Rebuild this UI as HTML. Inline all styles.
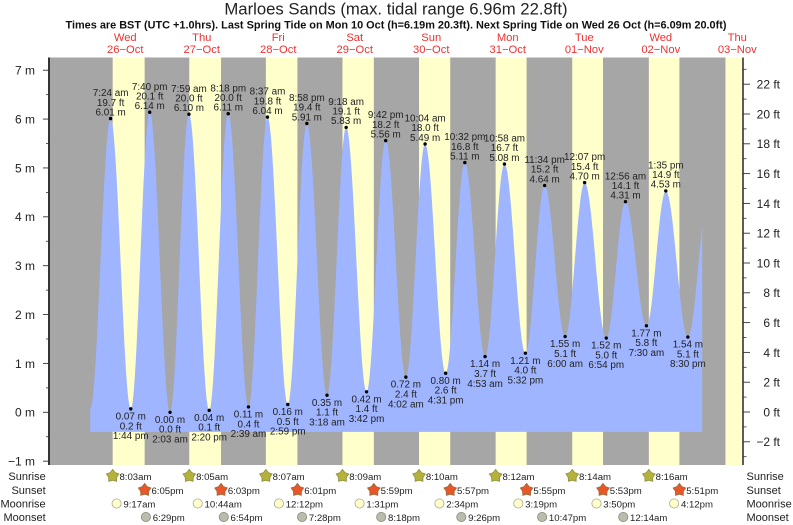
<!DOCTYPE html>
<html lang="en">
<head>
<meta charset="utf-8">
<title>Marloes Sands tide chart</title>
<style>
html,body{margin:0;padding:0;background:#fff;}
svg{display:block;font-family:"Liberation Sans",sans-serif;}
</style>
</head>
<body>
<svg id="chart" width="793" height="525" viewBox="0 0 793 525" xmlns="http://www.w3.org/2000/svg">
  <text x="396" y="14.5" font-size="16.7" text-anchor="middle" fill="#222">Marloes Sands (max. tidal range 6.96m 22.8ft)</text>
  <text x="396" y="28.5" font-size="10.9" font-weight="bold" text-anchor="middle" fill="#111">Times are BST (UTC +1.0hrs). Last Spring Tide on Mon 10 Oct (h=6.19m 20.3ft). Next Spring Tide on Wed 26 Oct (h=6.09m 20.0ft)</text>
  <g id="bands"></g>
  <g id="water"></g>
  <g id="axes"></g>
  <g id="days"></g>
  <g id="tides"></g>
  <g id="almanac"></g>
</svg>
<script>
// ---- chart data ----
const dayNames = ['Wed','Thu','Fri','Sat','Sun','Mon','Tue','Wed','Thu'];
const dayDates = ['26\u2212Oct','27\u2212Oct','28\u2212Oct','29\u2212Oct','30\u2212Oct','31\u2212Oct','01\u2212Nov','02\u2212Nov','03\u2212Nov'];

const tideDays = [0,0,0,1,1,1,1,2,2,2,2,3,3,3,3,4,4,4,4,5,5,5,5,6,6,6,7,7,7,7];
const tideTimes = ['7:24 am','1:44 pm','7:40 pm','2:03 am','7:59 am','2:20 pm','8:18 pm','2:39 am','8:37 am','2:59 pm','8:58 pm','3:18 am','9:18 am','3:42 pm','9:42 pm','4:02 am','10:04 am','4:31 pm','10:32 pm','4:53 am','10:58 am','5:32 pm','11:34 pm','6:00 am','12:07 pm','6:54 pm','12:56 am','7:30 am','1:35 pm','8:30 pm'];
const tideMetres = [6.01,0.07,6.14,0.00,6.10,0.04,6.11,0.11,6.04,0.16,5.91,0.35,5.83,0.42,5.56,0.72,5.49,0.80,5.11,1.14,5.08,1.21,4.64,1.55,4.70,1.52,4.31,1.77,4.53,1.54];
const tideFeet = [19.7,0.2,20.1,0.0,20.0,0.1,20.0,0.4,19.8,0.5,19.4,1.1,19.1,1.4,18.2,2.4,18.0,2.6,16.8,3.7,16.7,4.0,15.2,5.1,15.4,5.0,14.1,5.8,14.9,5.1];
// Tide just before and after the labelled range
const leadTideHour = 1.0;
const leadTideMetres = 0.08;
const trailTideHour = 195.2;
const trailTideMetres = 4.55;
const seriesStartHour = 1.0;
const seriesEndHour = 193.0;
const seriesFloorMetres = -0.4;

const sunriseTimes = ['8:03am','8:05am','8:07am','8:09am','8:10am','8:12am','8:14am','8:16am'];
const sunsetTimes = ['6:05pm','6:03pm','6:01pm','5:59pm','5:57pm','5:55pm','5:53pm','5:51pm'];
const moonriseTimes = ['9:17am','10:44am','12:12pm','1:31pm','2:34pm','3:19pm','3:50pm','4:12pm'];
const moonsetTimes = ['6:29pm','6:54pm','7:28pm','8:18pm','9:26pm','10:47pm','12:14am'];
const moonsetDays = [0,1,2,3,4,5,7];
const nextSunrise = '8:18am';

const metreTicks = [-1,0,1,2,3,4,5,6,7];
const metreLabels = ['\u22121 m','0 m','1 m','2 m','3 m','4 m','5 m','6 m','7 m'];
const feetTicks = [-2,0,2,4,6,8,10,12,14,16,18,20,22];
const feetLabels = ['\u22122 ft','0 ft','2 ft','4 ft','6 ft','8 ft','10 ft','12 ft','14 ft','16 ft','18 ft','20 ft','22 ft'];
const rowLabels = ['Sunrise','Sunset','Moonrise','Moonset'];

// ---- scales ----
const NS = 'http://www.w3.org/2000/svg';
const plotLeft = 50, plotRight = 743, plotTop = 57.5, plotBottom = 465;
const xScale = h => 87 + h * 76.5 / 24;
const yScale = m => 412.3 - m * 48.87;
const yFeet = f => 412 - f * 14.9;
function parseHour(s){
  const mt = s.match(/(\d+):(\d+)\s*(am|pm)/);
  let h = (+mt[1]) % 12;
  if (mt[3] === 'pm') h += 12;
  return h + (+mt[2]) / 60;
}
const absHour = (day, s) => day * 24 + parseHour(s);
function make(parent, tag, attrs, text){
  const el = document.createElementNS(NS, tag);
  for (const k in attrs) el.setAttribute(k, attrs[k]);
  if (text !== undefined) el.textContent = text;
  parent.appendChild(el);
  return el;
}

// ---- background bands ----
const bands = document.getElementById('bands');
const bg = make(bands, 'rect', {x:plotLeft, y:plotTop, width:plotRight-plotLeft, height:plotBottom-plotTop, fill:'#a6a6a6'});


sunriseTimes.forEach((t, i) => {
  const x0 = xScale(absHour(i, t));
  const x1 = xScale(absHour(i, sunsetTimes[i]));
  const r = make(bands, 'rect', {x:x0, y:plotTop, width:x1-x0, height:plotBottom-plotTop, fill:'#ffffcc'});
  
  
});
const lastDayX = xScale(absHour(8, nextSunrise));
const lastBand = make(bands, 'rect', {x:lastDayX, y:plotTop, width:plotRight-lastDayX, height:plotBottom-plotTop, fill:'#ffffcc'});



// ---- tide curve: cosine between high and low waters ----
const knotsH = [leadTideHour].concat(tideTimes.map((t, i) => absHour(tideDays[i], t)), [trailTideHour]);
const knotsM = [leadTideMetres].concat(tideMetres, [trailTideMetres]);
function tideAt(h){
  for (let i = 0; i < knotsH.length - 1; i++){
    if (h <= knotsH[i+1]){
      const f = (h - knotsH[i]) / (knotsH[i+1] - knotsH[i]);
      return knotsM[i] + (knotsM[i+1] - knotsM[i]) * (1 - Math.cos(Math.PI * f)) / 2;
    }
  }
  return knotsM[knotsM.length - 1];
}
let d = 'M' + xScale(seriesStartHour).toFixed(2) + ' ' + yScale(seriesFloorMetres).toFixed(2);
const sampleHours = [];
for (let h = seriesStartHour; h < seriesEndHour; h += 0.1) sampleHours.push(h);
sampleHours.push(seriesEndHour);
knotsH.forEach(k => { if (k > seriesStartHour && k < seriesEndHour) sampleHours.push(k); });
sampleHours.sort((a, b) => a - b);
sampleHours.forEach(h => {
  d += 'L' + xScale(h).toFixed(2) + ' ' + yScale(tideAt(h)).toFixed(2);
});
d += 'L' + xScale(seriesEndHour).toFixed(2) + ' ' + yScale(seriesFloorMetres).toFixed(2) + 'Z';
const area = make(document.getElementById('water'), 'path', {d:d, fill:'#9fb5ff'});



// ---- axes ----
const axes = document.getElementById('axes');
const leftAxis = make(axes, 'line', {x1:49, x2:49, y1:plotTop, y2:plotBottom, stroke:'#000', 'stroke-width':1.6});


const rightAxis = make(axes, 'line', {x1:743, x2:743, y1:plotTop, y2:plotBottom, stroke:'#333', 'stroke-width':1.6});


metreTicks.forEach((m, i) => {
  const y = yScale(m);
  const tick = make(axes, 'line', {x1:43, x2:49, y1:y, y2:y, stroke:'#333', 'stroke-width':0.9});
  
  
  const label = make(axes, 'text', {x:35, y:y+4.4, 'font-size':12, 'text-anchor':'end', fill:'#222'}, metreLabels[i]);
  
  
  if (m < metreTicks[metreTicks.length-1]){
    const ym = yScale(m + 0.5);
    const minor = make(axes, 'line', {x1:46, x2:49, y1:ym, y2:ym, stroke:'#333', 'stroke-width':0.8});
    
    
  }
});
feetTicks.forEach((f, i) => {
  const y = yFeet(f);
  const tick = make(axes, 'line', {x1:743, x2:750, y1:y, y2:y, stroke:'#333', 'stroke-width':0.9});
  
  
  const label = make(axes, 'text', {x:780, y:y+4.4, 'font-size':12, 'text-anchor':'end', fill:'#222'}, feetLabels[i]);
  
  
  const ym = yFeet(f + 1);
  const minor = make(axes, 'line', {x1:743, x2:746.5, y1:ym, y2:ym, stroke:'#333', 'stroke-width':0.8});
  
  
});
const yMinorLow = yFeet(-3);
const feetLowMinor = make(axes, 'line', {x1:743, x2:746.5, y1:yMinorLow, y2:yMinorLow, stroke:'#333', 'stroke-width':0.8});



// ---- date labels ----
const days = document.getElementById('days');
dayNames.forEach((n, i) => {
  const x = xScale(i * 24 + 12);
  const a = make(days, 'text', {x:x, y:41, 'font-size':11.2, 'text-anchor':'middle', fill:'#f03030'}, n);
  
  
  const b = make(days, 'text', {x:x, y:53, 'font-size':11.2, 'text-anchor':'middle', fill:'#f03030'}, dayDates[i]);
  
  
});

// ---- high / low water labels ----
const tides = document.getElementById('tides');
tideTimes.forEach((t, i) => {
  const x = xScale(absHour(tideDays[i], t));
  const y = yScale(tideMetres[i]);
  const prev = i > 0 ? tideMetres[i-1] : leadTideMetres;
  const isHigh = tideMetres[i] > prev;
  const dot = make(tides, 'circle', {cx:x, cy:y, r:1.7, fill:'#000'});
  
  
  const m = tideMetres[i].toFixed(2) + ' m';
  const f = tideFeet[i].toFixed(1) + ' ft';
  const lines = isHigh ? [t, f, m] : [m, f, t];
  const offs = isHigh ? [-22.4, -12.8, -3.2] : [10.6, 20.4, 30.2];
  lines.forEach((s, k) => {
    const lab = make(tides, 'text', {x:x, y:y+offs[k], 'font-size':9.9, 'text-anchor':'middle', fill:'#222'}, s);
    
    
  });
});

// ---- sun and moon rows ----
const almanac = document.getElementById('almanac');
const rowY = [476, 490, 503.5, 517];
rowLabels.forEach((s, i) => {
  const left = make(almanac, 'text', {x:45.7, y:rowY[i]+4, 'font-size':11, 'text-anchor':'end', fill:'#222'}, s);
  
  
  const right = make(almanac, 'text', {x:746.5, y:rowY[i]+4, 'font-size':11, fill:'#222'}, s);
  
  
});
function starPoints(cx, cy, R, r){
  const pts = [];
  for (let k = 0; k < 10; k++){
    const rad = k % 2 ? r : R;
    const ang = -Math.PI / 2 + k * Math.PI / 5;
    pts.push((cx + rad * Math.cos(ang)).toFixed(2) + ',' + (cy + rad * Math.sin(ang)).toFixed(2));
  }
  return pts.join(' ');
}
function rowText(x, y, s){
  const el = make(almanac, 'text', {x:x+6.8, y:y+4, 'font-size':9.6, fill:'#222'}, s);
  
  
}
sunriseTimes.forEach((t, i) => {
  const x = xScale(absHour(i, t));
  const s = make(almanac, 'polygon', {points:starPoints(x, rowY[0], 6.6, 4.2), fill:'#b4b23a', stroke:'#8f8f40', 'stroke-width':0.8});
  
  
  rowText(x, rowY[0], t);
});
sunsetTimes.forEach((t, i) => {
  const x = xScale(absHour(i, t));
  const s = make(almanac, 'polygon', {points:starPoints(x, rowY[1], 6.6, 4.2), fill:'#e8562a', stroke:'#9a6a3a', 'stroke-width':0.8});
  
  
  rowText(x, rowY[1], t);
});
moonriseTimes.forEach((t, i) => {
  const x = xScale(absHour(i, t));
  const s = make(almanac, 'circle', {cx:x, cy:rowY[2], r:4.6, fill:'#ffffcc', stroke:'#a8a890', 'stroke-width':0.8});
  
  
  rowText(x, rowY[2], t);
});
moonsetTimes.forEach((t, i) => {
  const x = xScale(absHour(moonsetDays[i], t));
  const s = make(almanac, 'circle', {cx:x, cy:rowY[3], r:4.6, fill:'#bcbcac', stroke:'#88887a', 'stroke-width':0.8});
  
  
  rowText(x, rowY[3], t);
});
</script>
</body>
</html>
